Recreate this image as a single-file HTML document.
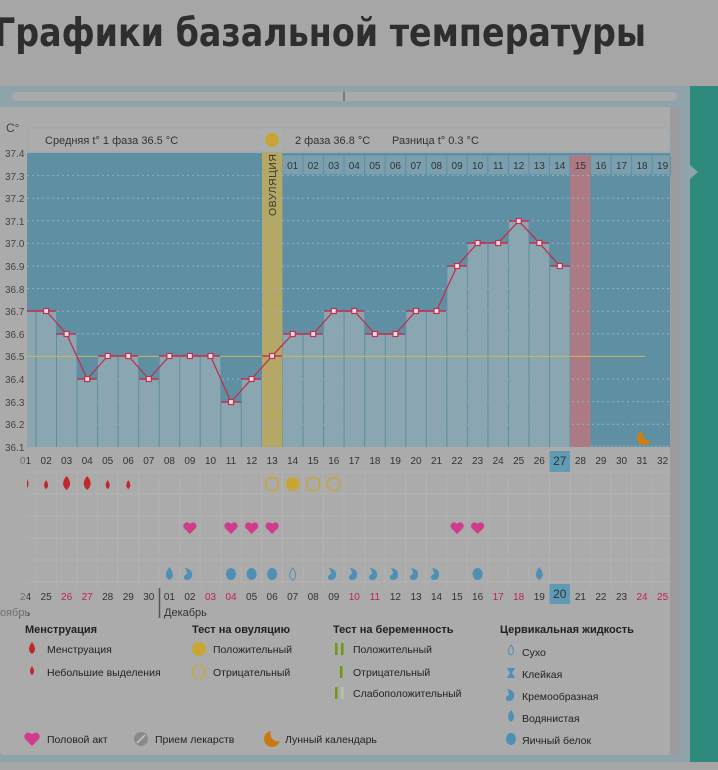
<!DOCTYPE html>
<html><head><meta charset="utf-8"><style>
html,body{margin:0;padding:0;background:#a6a6a6;width:718px;height:770px;overflow:hidden}
svg{display:block;font-family:"Liberation Sans","DejaVu Sans",sans-serif}
</style></head><body>
<svg width="718" height="770" viewBox="0 0 718 770" xmlns="http://www.w3.org/2000/svg">
<rect width="718" height="770" fill="#a6a6a6"/>
<text x="-6" y="46" font-size="39" font-weight="bold" fill="#2e2e2e" font-family="'DejaVu Sans Condensed','Liberation Sans Narrow','Liberation Sans',sans-serif" textLength="652" lengthAdjust="spacingAndGlyphs">Графики базальной температуры</text>
<rect x="0" y="86" width="690" height="676" fill="#8fa3aa"/>
<rect x="690" y="86" width="28" height="676" fill="#2e8a7d"/>
<polygon points="690,165 698,172 690,179" fill="#8fa3aa"/>
<rect x="12" y="92" width="665" height="9" rx="4" fill="#a9a9a9"/>
<rect x="343" y="92" width="2" height="9" fill="#777"/>
<rect x="0" y="107" width="680" height="648" rx="4" fill="#ababab"/>
<rect x="670" y="107" width="10" height="648" fill="#9c9c9c"/>
<rect x="27" y="128" width="643" height="24" fill="#acacac" stroke="#8fa9b4" stroke-width="1"/>
<text x="45" y="144" font-size="11" fill="#333">Средняя t° 1 фаза 36.5 °C</text>
<text x="295" y="144" font-size="11" fill="#333">2 фаза 36.8 °C</text>
<text x="392" y="144" font-size="11" fill="#333">Разница t° 0.3 °C</text>
<rect x="27" y="153" width="643" height="294" fill="#5f8fa2"/>
<g fill="#7b9fae" stroke="#5f8fa2" stroke-width="1">
<rect x="282.4" y="155" width="20.55" height="20"/><rect x="303" y="155" width="20.55" height="20"/><rect x="323.5" y="155" width="20.55" height="20"/><rect x="344" y="155" width="20.55" height="20"/><rect x="364.6" y="155" width="20.55" height="20"/><rect x="385.1" y="155" width="20.55" height="20"/><rect x="405.7" y="155" width="20.55" height="20"/><rect x="426.2" y="155" width="20.55" height="20"/><rect x="446.8" y="155" width="20.55" height="20"/><rect x="467.3" y="155" width="20.55" height="20"/><rect x="487.9" y="155" width="20.55" height="20"/><rect x="508.4" y="155" width="20.55" height="20"/><rect x="529" y="155" width="20.55" height="20"/><rect x="549.5" y="155" width="20.55" height="20"/><rect x="590.6" y="155" width="20.55" height="20"/><rect x="611.2" y="155" width="20.55" height="20"/><rect x="631.7" y="155" width="20.55" height="20"/><rect x="652.3" y="155" width="18" height="20"/>
</g>
<rect x="570.1" y="155" width="20.5" height="292" fill="#ac7a85"/>
<rect x="262" y="128" width="20.4" height="319" fill="#b5a866"/>
<rect x="262" y="128" width="20.4" height="24" fill="#a9aeb0"/>
<circle cx="272" cy="140" r="7" fill="#c8a634"/>
<text transform="translate(276,216) rotate(-90)" font-size="10.5" fill="#3a3826" letter-spacing="0.5">ОВУЛЯЦИЯ</text>
<g font-size="10" fill="#333" text-anchor="middle">
<text x="292.7" y="169">01</text><text x="313.2" y="169">02</text><text x="333.8" y="169">03</text><text x="354.3" y="169">04</text><text x="374.9" y="169">05</text><text x="395.4" y="169">06</text><text x="416" y="169">07</text><text x="436.5" y="169">08</text><text x="457.1" y="169">09</text><text x="477.6" y="169">10</text><text x="498.2" y="169">11</text><text x="518.7" y="169">12</text><text x="539.3" y="169">13</text><text x="559.8" y="169">14</text><text x="580.4" y="169">15</text><text x="600.9" y="169">16</text><text x="621.5" y="169">17</text><text x="642" y="169">18</text><text x="662.6" y="169">19</text>
</g>
<g stroke="#8fb3c2" stroke-dasharray="2,3" stroke-width="1">
<line x1="27" x2="670" y1="175.6" y2="175.6"/><line x1="27" x2="670" y1="198.2" y2="198.2"/><line x1="27" x2="670" y1="220.8" y2="220.8"/><line x1="27" x2="670" y1="243.4" y2="243.4"/><line x1="27" x2="670" y1="266" y2="266"/><line x1="27" x2="670" y1="288.6" y2="288.6"/><line x1="27" x2="670" y1="311.2" y2="311.2"/><line x1="27" x2="670" y1="333.8" y2="333.8"/><line x1="27" x2="670" y1="379" y2="379"/><line x1="27" x2="670" y1="401.6" y2="401.6"/><line x1="27" x2="670" y1="424.2" y2="424.2"/>
</g>
<g fill="#8aa6b1">
<rect x="16" y="311" width="19.5" height="136"/><rect x="36.5" y="311" width="19.5" height="136"/><rect x="57" y="334" width="19.5" height="113"/><rect x="77.5" y="379" width="19.5" height="68"/><rect x="98" y="356" width="19.5" height="91"/><rect x="118.6" y="356" width="19.5" height="91"/><rect x="139.1" y="379" width="19.5" height="68"/><rect x="159.7" y="356" width="19.5" height="91"/><rect x="180.2" y="356" width="19.5" height="91"/><rect x="200.8" y="356" width="19.5" height="91"/><rect x="221.3" y="402" width="19.5" height="45"/><rect x="241.9" y="379" width="19.5" height="68"/><rect x="283" y="334" width="19.5" height="113"/><rect x="303.5" y="334" width="19.5" height="113"/><rect x="324.1" y="311" width="19.5" height="136"/><rect x="344.6" y="311" width="19.5" height="136"/><rect x="365.2" y="334" width="19.5" height="113"/><rect x="385.7" y="334" width="19.5" height="113"/><rect x="406.3" y="311" width="19.5" height="136"/><rect x="426.8" y="311" width="19.5" height="136"/><rect x="447.4" y="266" width="19.5" height="181"/><rect x="467.9" y="243" width="19.5" height="204"/><rect x="488.5" y="243" width="19.5" height="204"/><rect x="509" y="221" width="19.5" height="226"/><rect x="529.6" y="243" width="19.5" height="204"/><rect x="550.1" y="266" width="19.5" height="181"/>
</g>
<line x1="27" x2="645" y1="356.4" y2="356.4" stroke="#c8b860" stroke-width="1"/>
<g stroke="#c0304f" stroke-width="1.5">
<path d="M27,311h29M36,311h20M56,334h20M77,379h20M98,356h20M118,356h20M139,379h20M159,356h20M180,356h20M200,356h20M221,402h20M241,379h20M262,356h20M283,334h20M303,334h20M324,311h20M344,311h20M365,334h20M385,334h20M406,311h20M426,311h20M447,266h20M467,243h20M488,243h20M509,221h20M529,243h20M550,266h20"/>
</g>
<polyline fill="none" stroke="#c0304f" stroke-width="1.3" points="25.5,311 46.1,311 66.6,334 87.2,379 107.7,356 128.3,356 148.8,379 169.4,356 189.9,356 210.5,356 231,402 251.6,379 272.1,356 292.7,334 313.2,334 333.8,311 354.3,311 374.9,334 395.4,334 416,311 436.5,311 457.1,266 477.6,243 498.2,243 518.7,221 539.3,243 559.8,266"/>
<g fill="#f0e0e4" stroke="#c0304f" stroke-width="1.2">
<rect x="43.6" y="308.5" width="5" height="5"/><rect x="64.1" y="331.5" width="5" height="5"/><rect x="84.7" y="376.5" width="5" height="5"/><rect x="105.2" y="353.5" width="5" height="5"/><rect x="125.8" y="353.5" width="5" height="5"/><rect x="146.3" y="376.5" width="5" height="5"/><rect x="166.9" y="353.5" width="5" height="5"/><rect x="187.4" y="353.5" width="5" height="5"/><rect x="208" y="353.5" width="5" height="5"/><rect x="228.5" y="399.5" width="5" height="5"/><rect x="249.1" y="376.5" width="5" height="5"/><rect x="269.6" y="353.5" width="5" height="5"/><rect x="290.2" y="331.5" width="5" height="5"/><rect x="310.7" y="331.5" width="5" height="5"/><rect x="331.3" y="308.5" width="5" height="5"/><rect x="351.8" y="308.5" width="5" height="5"/><rect x="372.4" y="331.5" width="5" height="5"/><rect x="392.9" y="331.5" width="5" height="5"/><rect x="413.5" y="308.5" width="5" height="5"/><rect x="434" y="308.5" width="5" height="5"/><rect x="454.6" y="263.5" width="5" height="5"/><rect x="475.1" y="240.5" width="5" height="5"/><rect x="495.7" y="240.5" width="5" height="5"/><rect x="516.2" y="218.5" width="5" height="5"/><rect x="536.8" y="240.5" width="5" height="5"/><rect x="557.3" y="263.5" width="5" height="5"/>
</g>
<line x1="590.6" x2="670" y1="446" y2="446" stroke="#8fb3c2" stroke-dasharray="2,2"/>
<circle cx="644" cy="438" r="7" fill="#d07e10"/>
<circle cx="649" cy="434" r="6.5" fill="#5f8fa2"/>
<rect x="0" y="107" width="27" height="350" fill="#ababab"/>
<text x="6" y="132" font-size="12" fill="#444">C°</text>
<g font-size="10" fill="#444">
<text x="5" y="157">37.4</text><text x="5" y="180">37.3</text><text x="5" y="202">37.2</text><text x="5" y="225">37.1</text><text x="5" y="247">37.0</text><text x="5" y="270">36.9</text><text x="5" y="293">36.8</text><text x="5" y="315">36.7</text><text x="5" y="338">36.6</text><text x="5" y="360">36.5</text><text x="5" y="383">36.4</text><text x="5" y="406">36.3</text><text x="5" y="428">36.2</text><text x="5" y="451">36.1</text>
</g>
<g stroke="#b3b3b3" stroke-width="1">
<path d="M27,472H670M27,494H670M27,516H670M27,538H670M27,560H670M27,582H670"/>
<path d="M35.8,472V588M56.4,472V588M76.9,472V588M97.5,472V588M118,472V588M138.6,472V588M159.1,472V588M179.7,472V588M200.2,472V588M220.8,472V588M241.3,472V588M261.9,472V588M282.4,472V588M303,472V588M323.5,472V588M344,472V588M364.6,472V588M385.1,472V588M405.7,472V588M426.2,472V588M446.8,472V588M467.3,472V588M487.9,472V588M508.4,472V588M529,472V588M549.5,472V588M570.1,472V588M590.6,472V588M611.2,472V588M631.7,472V588M652.3,472V588"/>
</g>
<rect x="549.5" y="451" width="20.5" height="21" fill="#5f9bb4"/>
<g font-size="10" fill="#333" text-anchor="middle">
<text x="25.5" y="464">01</text><text x="46.1" y="464">02</text><text x="66.6" y="464">03</text><text x="87.2" y="464">04</text><text x="107.7" y="464">05</text><text x="128.3" y="464">06</text><text x="148.8" y="464">07</text><text x="169.4" y="464">08</text><text x="189.9" y="464">09</text><text x="210.5" y="464">10</text><text x="231" y="464">11</text><text x="251.6" y="464">12</text><text x="272.1" y="464">13</text><text x="292.7" y="464">14</text><text x="313.2" y="464">15</text><text x="333.8" y="464">16</text><text x="354.3" y="464">17</text><text x="374.9" y="464">18</text><text x="395.4" y="464">19</text><text x="416" y="464">20</text><text x="436.5" y="464">21</text><text x="457.1" y="464">22</text><text x="477.6" y="464">23</text><text x="498.2" y="464">24</text><text x="518.7" y="464">25</text><text x="539.3" y="464">26</text><text x="559.8" y="465" font-size="12">27</text><text x="580.4" y="464">28</text><text x="600.9" y="464">29</text><text x="621.5" y="464">30</text><text x="642" y="464">31</text><text x="662.6" y="464">32</text>
</g>
<g fill="#c0282c">
<path d="M27,479 q3,5 0,9z"/>
<path d="M46.1,480 q4,6 0,9 q-4,-3 0,-9z"/>
<path d="M66.6,476 q7,8 0,14 q-7,-6 0,-14z"/>
<path d="M87.2,476 q7,8 0,14 q-7,-6 0,-14z"/>
<path d="M107.7,480 q4,6 0,9 q-4,-3 0,-9z"/>
<path d="M128.3,480 q4,6 0,9 q-4,-3 0,-9z"/>
</g>
<g stroke="#c8a634" stroke-width="1.5" fill="none">
<circle cx="272.1" cy="484" r="6.5"/><circle cx="313.2" cy="484" r="6.5"/><circle cx="333.8" cy="484" r="6.5"/>
</g>
<circle cx="292.7" cy="484" r="7" fill="#c8a634"/>
<g fill="#d03c8c">
<path d="M189.9,534 l-6,-6 a3.3,3.3 0 0 1 6,-4 a3.3,3.3 0 0 1 6,4z"/>
<path d="M231,534 l-6,-6 a3.3,3.3 0 0 1 6,-4 a3.3,3.3 0 0 1 6,4z"/>
<path d="M251.6,534 l-6,-6 a3.3,3.3 0 0 1 6,-4 a3.3,3.3 0 0 1 6,4z"/>
<path d="M272.1,534 l-6,-6 a3.3,3.3 0 0 1 6,-4 a3.3,3.3 0 0 1 6,4z"/>
<path d="M457.1,534 l-6,-6 a3.3,3.3 0 0 1 6,-4 a3.3,3.3 0 0 1 6,4z"/>
<path d="M477.6,534 l-6,-6 a3.3,3.3 0 0 1 6,-4 a3.3,3.3 0 0 1 6,4z"/>
</g>
<g fill="#4f8fb5">
<path d="M169.4,567 q7,9 0,13 q-7,-4 0,-13z"/>
<path d="M539.3,567 q7,9 0,13 q-7,-4 0,-13z"/>
<ellipse cx="231" cy="574" rx="5" ry="6"/><ellipse cx="251.6" cy="574" rx="5" ry="6"/><ellipse cx="272.1" cy="574" rx="5" ry="6"/><ellipse cx="477.6" cy="574" rx="5" ry="6"/>
<path d="M185,568 q8,1 7,8 q-1,4 -5,4 q-3,0 -3,-3 q0,-2 3,-3 q0,-3 -2,-6z"/>
<path d="M329,568 q8,1 7,8 q-1,4 -5,4 q-3,0 -3,-3 q0,-2 3,-3 q0,-3 -2,-6z"/>
<path d="M350,568 q8,1 7,8 q-1,4 -5,4 q-3,0 -3,-3 q0,-2 3,-3 q0,-3 -2,-6z"/>
<path d="M370,568 q8,1 7,8 q-1,4 -5,4 q-3,0 -3,-3 q0,-2 3,-3 q0,-3 -2,-6z"/>
<path d="M391,568 q8,1 7,8 q-1,4 -5,4 q-3,0 -3,-3 q0,-2 3,-3 q0,-3 -2,-6z"/>
<path d="M411,568 q8,1 7,8 q-1,4 -5,4 q-3,0 -3,-3 q0,-2 3,-3 q0,-3 -2,-6z"/>
<path d="M432,568 q8,1 7,8 q-1,4 -5,4 q-3,0 -3,-3 q0,-2 3,-3 q0,-3 -2,-6z"/>
</g>
<path d="M292.7,568 q6,8 0,12 q-6,-4 0,-12z" fill="none" stroke="#4f8fb5" stroke-width="1"/>
<rect x="549.5" y="584" width="20.5" height="20" fill="#5f9bb4"/>
<line x1="159.5" y1="588" x2="159.5" y2="618" stroke="#555" stroke-width="1.5"/>
<g font-size="10" fill="#333" text-anchor="middle">
<text x="25.5" y="600">24</text><text x="46.1" y="600">25</text><text x="66.6" y="600" fill="#c0244c">26</text><text x="87.2" y="600" fill="#c0244c">27</text><text x="107.7" y="600">28</text><text x="128.3" y="600">29</text><text x="148.8" y="600">30</text><text x="169.4" y="600">01</text><text x="189.9" y="600">02</text><text x="210.5" y="600" fill="#c0244c">03</text><text x="231" y="600" fill="#c0244c">04</text><text x="251.6" y="600">05</text><text x="272.1" y="600">06</text><text x="292.7" y="600">07</text><text x="313.2" y="600">08</text><text x="333.8" y="600">09</text><text x="354.3" y="600" fill="#c0244c">10</text><text x="374.9" y="600" fill="#c0244c">11</text><text x="395.4" y="600">12</text><text x="416" y="600">13</text><text x="436.5" y="600">14</text><text x="457.1" y="600">15</text><text x="477.6" y="600">16</text><text x="498.2" y="600" fill="#c0244c">17</text><text x="518.7" y="600" fill="#c0244c">18</text><text x="539.3" y="600">19</text><text x="559.8" y="598" font-size="12">20</text><text x="580.4" y="600">21</text><text x="600.9" y="600">22</text><text x="621.5" y="600">23</text><text x="642" y="600" fill="#c0244c">24</text><text x="662.6" y="600" fill="#c0244c">25</text>
</g>
<text x="-8" y="616" font-size="11" fill="#333">Ноябрь</text>
<text x="164" y="616" font-size="11" fill="#333">Декабрь</text>
<rect x="0" y="457" width="27" height="160" fill="#ababab" opacity="0.5"/>
<g font-size="11" fill="#222" font-weight="bold">
<text x="25" y="633">Менструация</text><text x="192" y="633">Тест на овуляцию</text><text x="333" y="633">Тест на беременность</text><text x="500" y="633">Цервикальная жидкость</text>
</g>
<g font-size="10.5" fill="#222">
<text x="47" y="653">Менструация</text><text x="47" y="676">Небольшие выделения</text>
<text x="213" y="653">Положительный</text><text x="213" y="676">Отрицательный</text>
<text x="353" y="653">Положительный</text><text x="353" y="676">Отрицательный</text><text x="353" y="697">Слабоположительный</text>
<text x="522" y="656">Сухо</text><text x="522" y="678">Клейкая</text><text x="522" y="700">Кремообразная</text><text x="522" y="722">Водянистая</text><text x="522" y="744">Яичный белок</text>
<text x="47" y="743">Половой акт</text><text x="155" y="743">Прием лекарств</text><text x="285" y="743">Лунный календарь</text>
</g>
<path d="M32,642 q6,8 0,12 q-6,-4 0,-12z" fill="#c0282c"/>
<path d="M32,666 q4,6 0,9 q-4,-3 0,-9z" fill="#c0282c"/>
<circle cx="199" cy="649" r="7" fill="#c8a634"/>
<circle cx="199" cy="672" r="6.5" fill="none" stroke="#c8a634" stroke-width="1.3"/>
<rect x="335" y="643" width="2.5" height="12" fill="#6a9a10"/><rect x="341" y="643" width="2.5" height="12" fill="#6a9a10"/>
<rect x="340" y="666" width="2.5" height="12" fill="#6a9a10"/>
<rect x="335" y="687" width="2.5" height="12" fill="#6a9a10"/><rect x="341" y="687" width="2.5" height="12" fill="#b8c4a0"/>
<path d="M511,645 q5,7 0,10 q-5,-3 0,-10z" fill="none" stroke="#4f8fb5"/>
<path d="M507,668h8l-3,5 3,5h-8l3,-5z" fill="#4f8fb5"/>
<path d="M507,689 q8,1 7,8 q-1,4 -5,4 q-3,0 -3,-3 q0,-2 3,-3 q0,-3 -2,-6z" fill="#4f8fb5"/>
<path d="M511,710 q6,8 0,12 q-6,-4 0,-12z" fill="#4f8fb5"/>
<ellipse cx="511" cy="739" rx="5" ry="6" fill="#4f8fb5"/>
<path d="M32,746 l-7,-7 a3.8,3.8 0 0 1 7,-4.5 a3.8,3.8 0 0 1 7,4.5z" fill="#d03c8c"/>
<circle cx="141" cy="739" r="7" fill="#8a8a8a"/><line x1="137" y1="743" x2="145" y2="735" stroke="#c8c8c8" stroke-width="1.5"/>
<circle cx="272" cy="739" r="8" fill="#c87a10"/>
<circle cx="278" cy="734" r="7.5" fill="#ababab"/>
</svg>
</body></html>
